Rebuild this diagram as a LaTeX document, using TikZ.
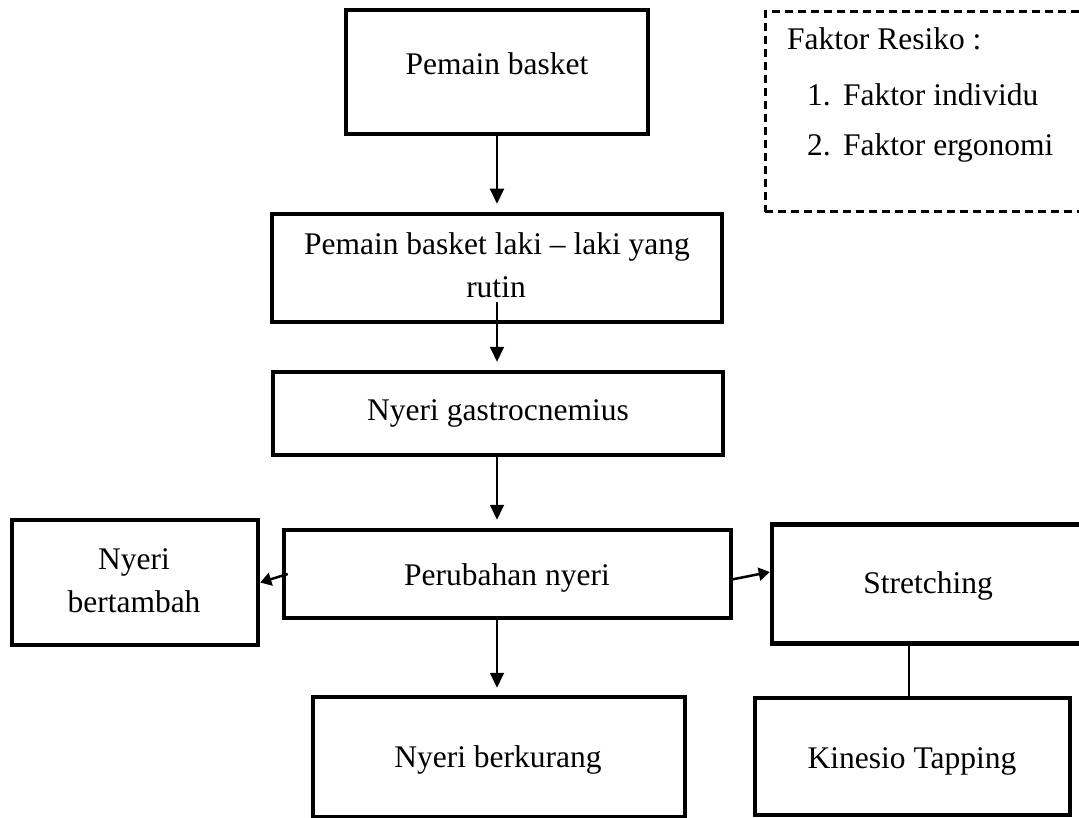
\documentclass[tikz,border=0pt]{standalone}
\usepackage{fontspec}
\setmainfont{Liberation Serif}
\usetikzlibrary{arrows.meta}
\begin{document}
\begin{tikzpicture}[x=1pt,y=-1pt,
  box/.style={draw, line width=4.5pt, inner sep=0pt, rectangle},
  dbox/.style={draw, line width=3pt, dash pattern=on 8pt off 5pt, inner sep=0pt, rectangle},
  lbl/.style={anchor=base, inner sep=0pt, font=\fontsize{31.5}{38}\selectfont},
  lbll/.style={anchor=base west, inner sep=0pt, font=\fontsize{31.5}{38}\selectfont},
  arr/.style={line width=2pt, -{Triangle[width=14pt,length=15pt]}},
  sarr/.style={line width=2.5pt, -{Triangle[width=13pt,length=11pt]}},
  conn/.style={line width=2pt}]
\useasboundingbox (0,0) rectangle (1079,818);
\fill[white] (0,0) rectangle (1079,818);
\clip (0,0) rectangle (1079,818);

% boxes
\node[box, minimum width=302pt, minimum height=124pt] (b1) at (497,72) {};
\node[box, minimum width=450pt, minimum height=108pt] (b2) at (497,268) {};
\node[box, minimum width=450pt, minimum height=83pt] (b3) at (498,413.5) {};
\node[box, minimum width=447pt, minimum height=88pt] (b4) at (507.5,574) {};
\node[box, minimum width=246pt, minimum height=125pt] (b5) at (135,582.5) {};
\node[box, minimum width=313pt, minimum height=119pt] (b6) at (928.5,584) {};
\node[box, minimum width=372pt, minimum height=120pt] (b7) at (499,757) {};
\node[box, minimum width=315pt, minimum height=117pt] (b8) at (912.5,756.5) {};
\node[dbox, minimum width=330pt, minimum height=200pt] (d1) at (930,112) {};

% texts
\node[lbl] (t1) at (497,75) {Pemain basket};
\node[lbl] (t2a) at (497,255) {Pemain basket laki -- laki yang};
\node[lbl] (t2b) at (496,298) {rutin};
\node[lbl] (t3) at (498,420) {Nyeri gastrocnemius};
\node[lbl] (t4) at (507,585) {Perubahan nyeri};
\node[lbl] (t5a) at (134,569) {Nyeri};
\node[lbl] (t5b) at (134,612) {bertambah};
\node[lbl] (t6) at (928,593) {Stretching};
\node[lbl] (t7) at (498,767) {Nyeri berkurang};
\node[lbl] (t8) at (912,768) {Kinesio Tapping};
\node[lbll] (f0) at (787,50) {Faktor Resiko :};
\node[lbll] (f1n) at (807,106) {1.};
\node[lbll] (f1) at (843,106) {Faktor individu};
\node[lbll] (f2n) at (807,156) {2.};
\node[lbll] (f2) at (843,156) {Faktor ergonomi};

% connectors (vertical spine at the x of b1)
\draw[arr] (b1.south) -- ([yshift=8pt]b2.north);
\draw[arr] ([yshift=22pt]b1.south |- b2.south) -- ([yshift=8pt]b1.south |- b3.north);
\draw[arr] (b1.south |- b3.south) -- ([yshift=8pt]b1.south |- b4.north);
\draw[arr] (b1.south |- b4.south) -- ([yshift=7pt]b1.south |- b7.north);
\draw[sarr] ([xshift=6pt]b4.west) -- (b5.east);
\draw[sarr] ([xshift=-4pt,yshift=-6pt]b4.east) -- ([yshift=12pt]b6.west);
\draw[conn] ([xshift=-3.5pt]b8.north) -- ([xshift=-3.5pt]b8.north |- b6.south);
\end{tikzpicture}
\end{document}
